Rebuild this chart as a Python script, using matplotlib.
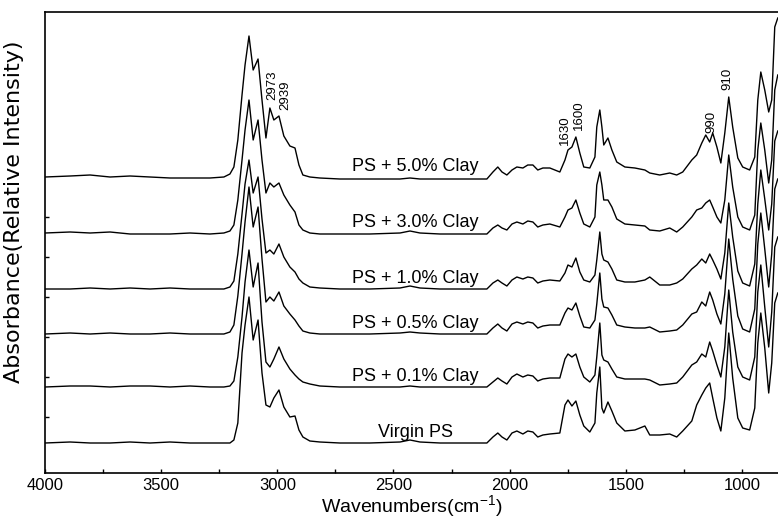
import numpy as np
import matplotlib
matplotlib.use("Agg")
import matplotlib.pyplot as plt

plt.rcParams['font.family'] = ['Liberation Sans', 'DejaVu Sans']
plt.rcParams['mathtext.fontset'] = 'custom'
plt.rcParams['mathtext.rm'] = 'Liberation Sans'
plt.rcParams['mathtext.default'] = 'regular'

# wavenumber grid (cm-1)
wn = [4000, 3892, 3806, 3720, 3634, 3548, 3462, 3376, 3290, 3230,
      3204, 3187, 3170, 3152, 3139, 3122, 3104, 3083, 3066, 3049,
      3032, 3015, 2993, 2972, 2946, 2924, 2907, 2890, 2860, 2817,
      2731, 2602, 2472, 2429, 2386, 2300, 2171, 2098, 2072, 2051,
      2033, 2012, 1990, 1969, 1943, 1922, 1900, 1879, 1857, 1827,
      1784, 1762, 1749, 1732, 1715, 1698, 1681, 1655, 1633, 1625,
      1612, 1603, 1595, 1577, 1560, 1539, 1504, 1461, 1418, 1397,
      1354, 1311, 1281, 1255, 1216, 1195, 1173, 1156, 1139, 1126,
      1108, 1091, 1074, 1057, 1040, 1018, 997, 967, 945, 932,
      919, 902, 885, 872, 859, 846]

# absorbance above each trace's own baseline (x0.01)
ps_50 = [0, 1, 2, 0, 1, 0, -1, -1, -1, 0,
         3, 10, 37, 82, 112, 141, 107, 118, 77, 39,
         69, 57, 61, 41, 31, 29, 12, 2, 0, -1,
         -2, -2, -2, -1, -2, -2, -2, -2, 5, 10,
         5, 2, 7, 10, 9, 12, 12, 7, 9, 9,
         5, 17, 27, 30, 40, 24, 10, 9, 20, 50,
         67, 50, 32, 39, 27, 15, 10, 9, 7, 4,
         2, 4, 2, 5, 17, 22, 34, 42, 35, 44,
         30, 14, 44, 80, 50, 19, 10, 7, 20, 77,
         105, 87, 65, 77, 150, 159]
ps_30 = [0, 1, 0, 1, -1, -1, -1, 0, -1, 0,
         2, 8, 33, 73, 103, 133, 93, 113, 73, 40,
         50, 46, 50, 38, 28, 21, 8, 3, 0, -1,
         -1, -1, 0, 2, 0, -1, -1, -1, 5, 8,
         5, 3, 9, 11, 9, 12, 11, 6, 8, 9,
         6, 16, 23, 25, 33, 20, 9, 6, 16, 48,
         61, 48, 33, 33, 26, 14, 9, 8, 7, 3,
         2, 5, 1, 6, 16, 23, 25, 30, 33, 26,
         16, 10, 33, 78, 46, 16, 6, 3, 18, 83,
         110, 83, 50, 73, 143, 158]
ps_10 = [0, 0, 1, 0, 1, 0, 1, 0, 0, 0,
         2, 8, 35, 75, 105, 129, 96, 112, 70, 36,
         39, 35, 45, 32, 22, 17, 10, 6, 2, 1,
         0, 0, 1, 3, 1, 0, 0, 0, 6, 9,
         6, 3, 9, 12, 10, 12, 11, 6, 8, 9,
         8, 16, 24, 22, 31, 17, 9, 7, 14, 29,
         57, 35, 29, 27, 20, 9, 7, 7, 9, 12,
         4, 4, 6, 10, 20, 24, 30, 26, 35, 29,
         20, 10, 36, 86, 52, 18, 6, 3, 25, 85,
         119, 90, 59, 85, 148, 158]
ps_05 = [0, 1, 0, 1, 0, 0, 1, 0, 0, 0,
         2, 9, 38, 80, 112, 147, 107, 127, 75, 32,
         37, 33, 42, 28, 20, 14, 8, 3, 1, 0,
         0, 0, 1, 2, 1, 0, 0, 0, 6, 10,
         6, 3, 10, 12, 10, 12, 11, 6, 8, 9,
         9, 21, 26, 24, 31, 18, 7, 6, 14, 30,
         61, 35, 27, 26, 19, 9, 7, 6, 6, 7,
         2, 3, 4, 9, 20, 22, 32, 28, 42, 34,
         20, 10, 40, 95, 55, 18, 5, 2, 25, 90,
         121, 85, 47, 80, 145, 155]
ps_01 = [0, 1, 1, 0, 1, 1, 0, 1, 0, 0,
         1, 6, 30, 70, 105, 137, 100, 124, 65, 25,
         20, 28, 40, 28, 18, 12, 8, 5, 3, 1,
         0, 0, 0, 1, 0, 0, 0, 0, 5, 9,
         6, 3, 10, 13, 10, 12, 11, 6, 8, 9,
         9, 28, 33, 30, 33, 20, 10, 5, 12, 30,
         64, 32, 27, 25, 18, 10, 8, 8, 8, 7,
         2, 3, 4, 10, 22, 25, 33, 30, 45, 36,
         22, 10, 40, 97, 55, 20, 10, 7, 30, 95,
         122, 80, 40, 75, 140, 150]
virgin = [0, 1, 0, 0, 1, 0, 1, 0, 0, 0,
          0, 3, 20, 90, 118, 146, 103, 123, 70, 38,
          36, 45, 53, 36, 26, 27, 13, 6, 2, 1,
          0, 0, 1, 3, 1, 0, 0, 0, 6, 10,
          6, 3, 10, 12, 9, 12, 11, 6, 8, 9,
          10, 38, 43, 37, 42, 28, 17, 11, 20, 50,
          76, 35, 30, 41, 32, 20, 12, 13, 17, 8,
          8, 9, 6, 12, 22, 38, 48, 55, 60, 45,
          25, 12, 45, 110, 65, 25, 15, 13, 35, 100,
          130, 95, 50, 80, 140, 150]

spectra = [ps_50, ps_30, ps_10, ps_05, ps_01, virgin]
names = ["PS + 5.0% Clay", "PS + 3.0% Clay", "PS + 1.0% Clay",
         "PS + 0.5% Clay", "PS + 0.1% Clay", "Virgin PS"]
offsets = [2.96, 2.40, 1.84, 1.39, 0.86, 0.30]

peak_labels = ["2973", "2939", "1630", "1600", "990", "910"]
peak_x = [3023, 2967, 1764, 1700, 1130, 1061]
peak_y = [3.73, 3.63, 3.28, 3.43, 3.40, 3.83]

fig = plt.figure(figsize=(7.78, 5.21), dpi=100)
ax = fig.add_axes([45 / 778, 48 / 521, 733 / 778, 461 / 521])

for spec, name, off in zip(spectra, names, offsets):
    ax.plot(wn, off + np.array(spec) / 100, color="black", lw=1.0)
    ax.text(2405, off + 0.06, name, ha="center", va="baseline", fontsize=13)

for lab, x, y in zip(peak_labels, peak_x, peak_y):
    ax.text(x, y, lab, rotation=90, ha="center", va="bottom", fontsize=9.5)

ax.set_xlim(4000, 845)
ax.set_ylim(0, 4.61)
ax.set_xticks([4000, 3500, 3000, 2500, 2000, 1500, 1000])
ax.set_xticks(np.arange(1000, 4001, 250), minor=True)
ax.set_yticks([0.56, 0.96, 1.36, 1.76, 2.16, 2.56])
ax.set_yticklabels([])
ax.tick_params(which="both", direction="in", length=3, width=1, labelsize=12)
ax.spines["right"].set_visible(False)
for s in ["left", "bottom", "top"]:
    ax.spines[s].set_linewidth(1.2)

ax.set_xlabel("Wavenumbers(cm$^{-1}$)", fontsize=14, labelpad=0)
ax.set_ylabel("Absorbance(Relative Intensity)", fontsize=16, family="DejaVu Sans")
ax.yaxis.set_label_coords(-0.028, 0.566)

plt.savefig("out.png", dpi=100)
